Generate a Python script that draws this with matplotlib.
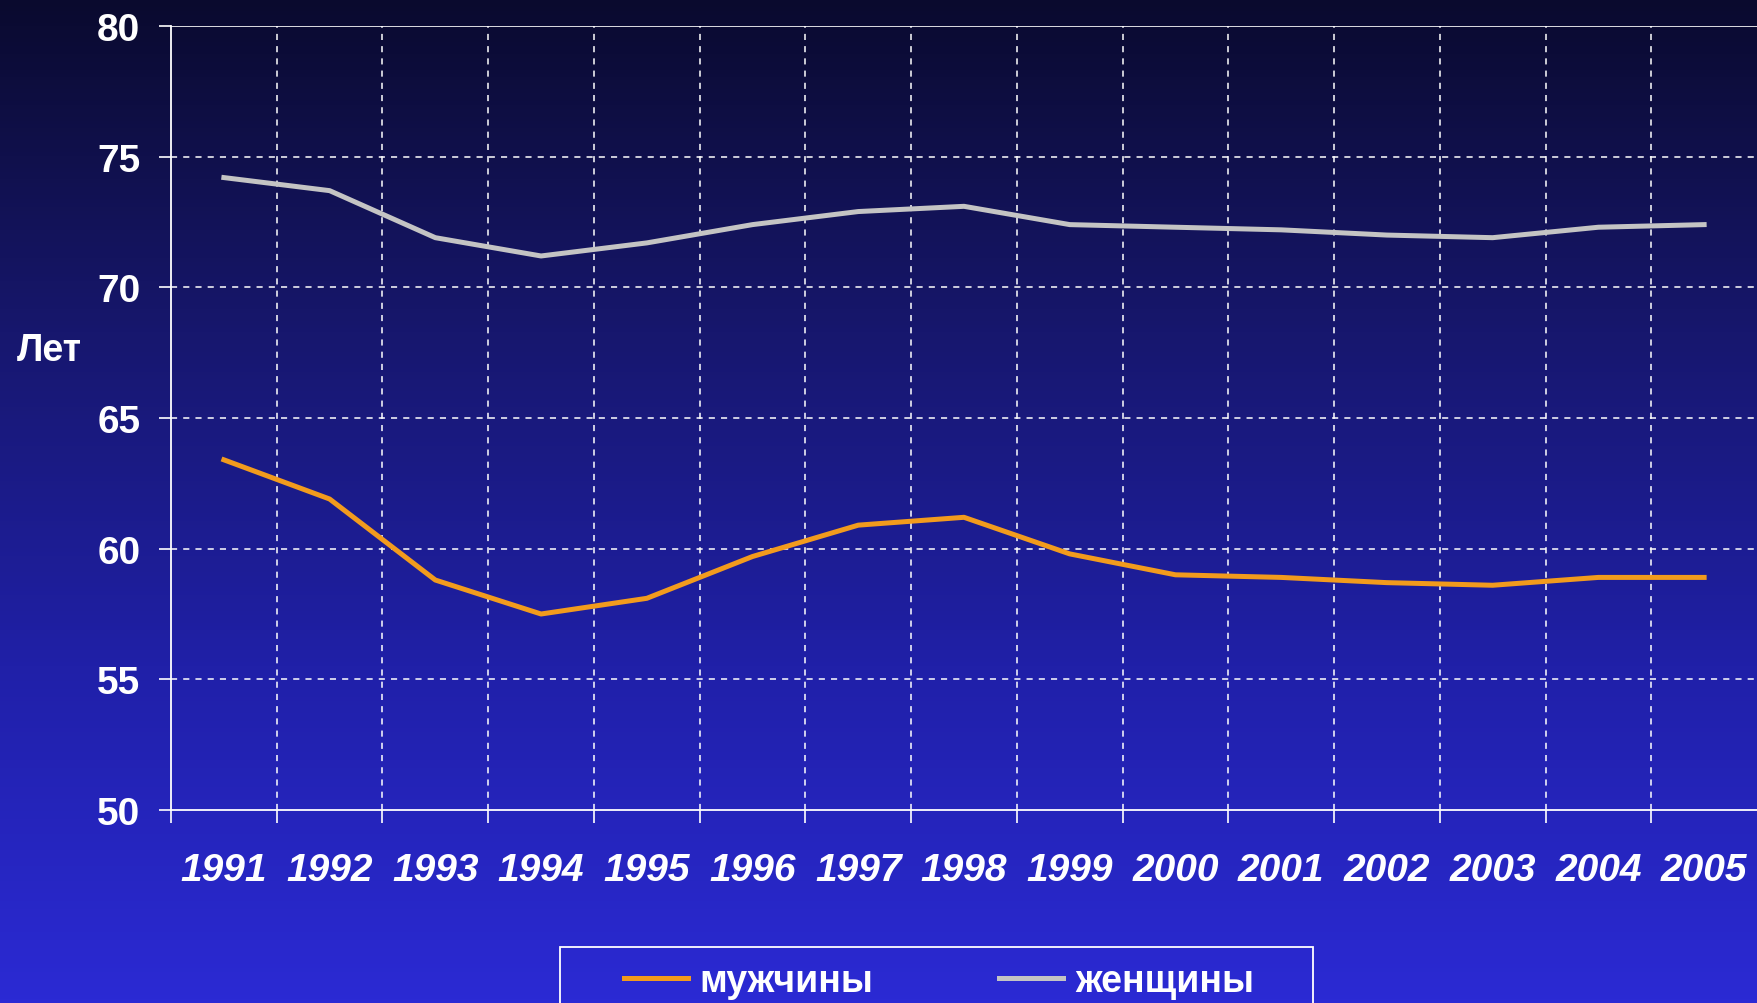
import numpy as np
import matplotlib
matplotlib.use("Agg")
import matplotlib.pyplot as plt
from matplotlib.colors import LinearSegmentedColormap
from matplotlib.patches import Rectangle

years = ["1991", "1992", "1993", "1994", "1995", "1996", "1997", "1998",
         "1999", "2000", "2001", "2002", "2003", "2004", "2005"]
men = [63.4, 61.9, 58.8, 57.5, 58.1, 59.7, 60.9, 61.2, 59.8, 59.0, 58.9, 58.7, 58.6, 58.9, 58.9]
women = [74.2, 73.7, 71.9, 71.2, 71.7, 72.4, 72.9, 73.1, 72.4, 72.3, 72.2, 72.0, 71.9, 72.3, 72.4]
series_names = ["мужчины", "женщины"]
y_ticks = [50, 55, 60, 65, 70, 75, 80]
y_label = "Лет"

W, H = 1757, 1004
fig = plt.figure(figsize=(W / 100, H / 100), dpi=100)

# background gradient
bg = fig.add_axes([0, 0, 1, 1], zorder=-10)
cmap = LinearSegmentedColormap.from_list(
    "bg", ["#0a0a2e", "#17176e", "#2020a8", "#2b2ad4"])
grad = np.linspace(0, 1, 256).reshape(-1, 1)
bg.imshow(grad, aspect="auto", cmap=cmap, extent=[0, 1, 0, 1], origin="upper")
bg.set_axis_off()

left, right, top, bottom = 171, 1757, 27, 811
ax = fig.add_axes([left / W, 1 - bottom / H, (right - left) / W, (bottom - top) / H])
ax.patch.set_alpha(0)

x = np.arange(len(years))
ax.plot(x, men, color="#f29b1d", lw=3.6, solid_joinstyle="round", zorder=3)
ax.plot(x, women, color="#c4c4c4", lw=3.6, solid_joinstyle="round", zorder=3)

ax.set_xlim(-0.5, len(years) - 0.5)
ax.set_ylim(50, 80)

# gridlines
for yv in y_ticks[1:-1]:
    ax.axhline(yv, color="white", lw=1.1, ls=(0, (4, 4)), zorder=1)
ax.axhline(80, color="white", lw=1.2, zorder=1)
for b in np.arange(0.5, len(years) - 0.5, 1.0):
    ax.axvline(b, color="white", lw=1.1, ls=(0, (4, 4)), zorder=1)

for s in ["top", "right"]:
    ax.spines[s].set_visible(False)
for s in ["left", "bottom"]:
    ax.spines[s].set_color("white")
    ax.spines[s].set_linewidth(1.3)

ax.set_yticks(y_ticks)
ax.set_yticklabels([str(v) for v in y_ticks])
ax.set_xticks(np.arange(-0.5, len(years) - 0.5, 1.0))
ax.set_xticklabels([])
ax.set_xticks(x, minor=True)
ax.set_xticklabels(years, minor=True)
ax.tick_params(axis="x", which="major", direction="out", length=9, width=1.2, color="white")
ax.tick_params(axis="x", which="minor", length=0, pad=30, labelsize=28, labelcolor="white")
ax.tick_params(axis="y", direction="out", length=9, width=1.2, color="white",
               labelsize=28, labelcolor="white", pad=13)
for lab in ax.get_xticklabels(minor=True):
    lab.set_fontfamily("Liberation Sans")
    lab.set_fontweight("bold")
    lab.set_fontstyle("italic")
for lab in ax.get_yticklabels():
    lab.set_fontfamily("Liberation Sans")
    lab.set_fontweight("bold")

fig.text(17 / W, 1 - 351 / H, y_label, color="white", fontsize=27,
         fontfamily="Liberation Sans", fontweight="bold", ha="left", va="center")

# legend box
fig.patches.append(Rectangle((560 / W, -0.05), (1313 - 560) / W, 0.05 + 1 - 948 / H,
                             transform=fig.transFigure, fill=False,
                             edgecolor="white", lw=1.3))
handles = ax.get_lines()[:2]
leg = fig.legend(handles, series_names, loc="center left",
                 bbox_to_anchor=(624 / W, 1 - 982 / H), ncol=2, frameon=False,
                 prop={"family": "Liberation Sans", "weight": "bold", "size": 27},
                 handlelength=1.7, handletextpad=0.32, columnspacing=3.35,
                 borderpad=0, borderaxespad=0)
for t in leg.get_texts():
    t.set_color("white")

fig.savefig("out.png", dpi=100)
